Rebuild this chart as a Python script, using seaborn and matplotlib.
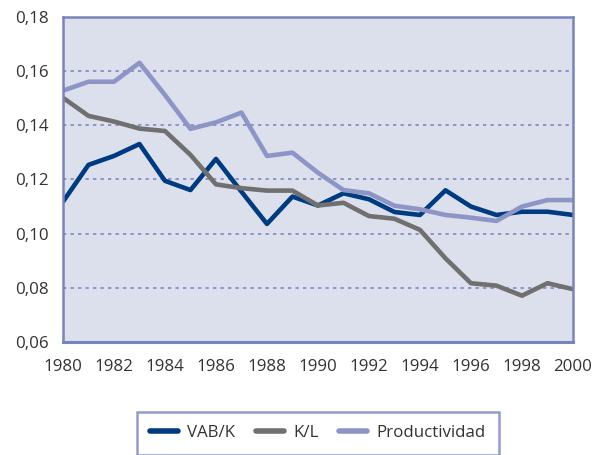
import numpy as np
import pandas as pd
import matplotlib
matplotlib.use("Agg")
import matplotlib.pyplot as plt
import seaborn as sns

# Data
years = list(range(1980, 2001))
vab_k = [0.1118, 0.1254, 0.1287, 0.1331, 0.1195, 0.1161, 0.1276, 0.1155, 0.1036, 0.1137,
         0.1104, 0.1149, 0.1127, 0.1080, 0.1069, 0.1160, 0.1100, 0.1069, 0.1081, 0.1081, 0.1069]
k_l = [0.1502, 0.1435, 0.1414, 0.1388, 0.1379, 0.1291, 0.1182, 0.1168, 0.1159, 0.1159,
       0.1104, 0.1114, 0.1065, 0.1055, 0.1014, 0.0909, 0.0817, 0.0808, 0.0771, 0.0817, 0.0795]
productividad = [0.1528, 0.1561, 0.1561, 0.1631, 0.1512, 0.1387, 0.1411, 0.1447, 0.1287, 0.1299,
                 0.1225, 0.1161, 0.1149, 0.1103, 0.1090, 0.1069, 0.1059, 0.1047, 0.1100, 0.1124, 0.1124]
series_names = ["VAB/K", "K/L", "Productividad"]
colors = ["#003b80", "#707070", "#8d95c6"]

df = pd.DataFrame({"Año": years, "VAB/K": vab_k, "K/L": k_l, "Productividad": productividad})
long_df = df.melt(id_vars="Año", var_name="Serie", value_name="Valor")

sns.set_style("white")
plt.rcParams["font.family"] = ["Open Sans", "DejaVu Sans"]

frame_color = "#7a84bb"
fig = plt.figure(figsize=(5.94, 4.55), dpi=100)
ax = fig.add_axes([0.106, 0.2484, 0.8586, 0.7142])
ax.set_facecolor("#dce0ed")

sns.lineplot(data=long_df, x="Año", y="Valor", hue="Serie", hue_order=series_names,
             palette=colors, linewidth=3.3, ax=ax, legend=False)

ax.set_xlim(1980, 2000)
ax.set_ylim(0.06, 0.18)
ax.set_xticks(range(1980, 2001, 2))
ax.set_yticks(np.arange(0.06, 0.181, 0.02))
ax.set_yticklabels([f"{v:.2f}".replace(".", ",") for v in np.arange(0.06, 0.181, 0.02)])
ax.set_xlabel("")
ax.set_ylabel("")

for y in [0.08, 0.10, 0.12, 0.14, 0.16]:
    ax.axhline(y, color="#7f87c2", linestyle=(0, (2, 2.5)), linewidth=1.2, zorder=0)

for side, spine in ax.spines.items():
    spine.set_visible(True)
    spine.set_color(frame_color)
    spine.set_linewidth(2.2 if side == "bottom" else 1.8)

ax.tick_params(axis="both", colors=frame_color, length=7.5, width=1.6,
               labelcolor="#333333", labelsize=12.2, direction="out")
ax.tick_params(axis="y", pad=2.5)
ax.tick_params(axis="x", pad=4.5)

handles = [plt.Line2D([], [], color=c, linewidth=4) for c in colors]
leg = fig.legend(handles, series_names, loc="center", bbox_to_anchor=(0.535, 0.048),
                 ncol=3, frameon=True, fancybox=False, fontsize=12.2,
                 handlelength=1.65, handletextpad=0.55, columnspacing=1.2,
                 borderpad=0.8, borderaxespad=0)
leg.get_frame().set_edgecolor(frame_color)
leg.get_frame().set_linewidth(1.8)
for t in leg.get_texts():
    t.set_color("#333333")

fig.savefig("out.png", dpi=100)
